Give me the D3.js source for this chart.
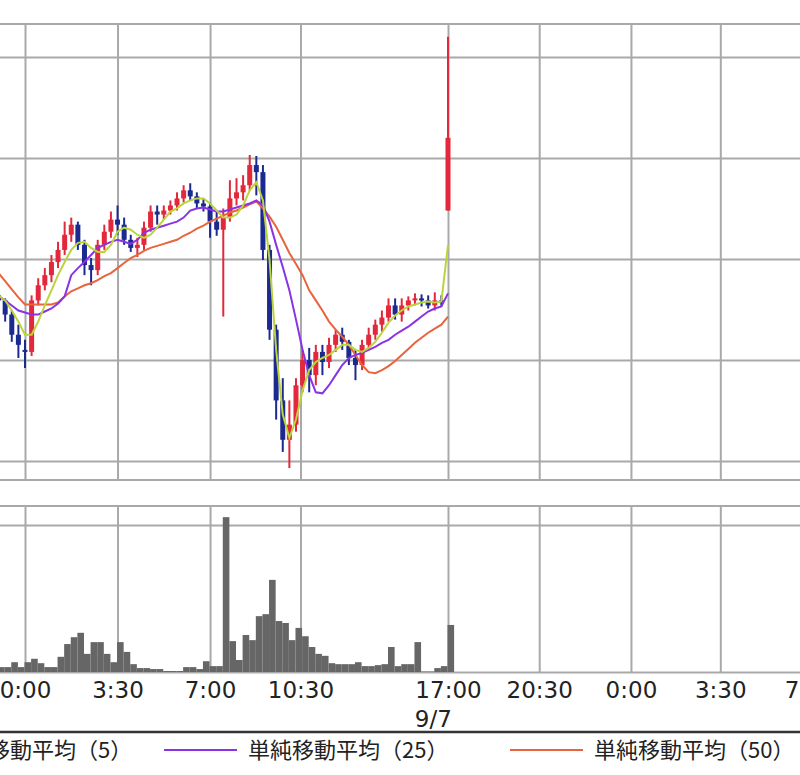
<!DOCTYPE html>
<html>
<head>
<meta charset="utf-8">
<script src="https://cdn.jsdelivr.net/npm/d3@7"></script>
<style>
  body { margin: 0; background: #fff; }
  svg { display: block; }
</style>
</head>
<body>
<div id="chart"></div>
<script>
// Chart size
const width = 800;
const height = 775;

// 15-minute bars, time in session hours (the break before 17:00 is squeezed out)
const barStart = -1;
const barStep = 0.25;

const opens = [
  22564, 22559, 22545, 22525, 22510, 22508, 22559, 22574, 22584, 22597,
  22609, 22624, 22634, 22614, 22594, 22589, 22614, 22627, 22639, 22634,
  22619, 22611, 22614, 22631, 22647, 22644, 22648, 22653, 22660, 22668,
  22662, 22655, 22652, 22637, 22629, 22641, 22660, 22666, 22673, 22693,
  22686, 22609, 22530, 22460, 22421, 22436, 22475, 22500, 22485, 22508,
  22498, 22515, 22525, 22518, 22502, 22495, 22515, 22525, 22535, 22542,
  22554, 22545, 22554, 22559, 22561, 22559, 22554, 22559, 22648
];
const highs = [
  22571, 22561, 22549, 22535, 22520, 22564, 22581, 22591, 22604, 22617,
  22637, 22641, 22637, 22619, 22601, 22619, 22634, 22647, 22653, 22641,
  22624, 22621, 22637, 22653, 22653, 22653, 22658, 22666, 22673, 22675,
  22666, 22660, 22656, 22647, 22650, 22678, 22680, 22683, 22703, 22702,
  22693, 22614, 22535, 22482, 22460, 22482, 22510, 22512, 22515, 22515,
  22522, 22530, 22532, 22520, 22510, 22520, 22532, 22540, 22549, 22561,
  22561, 22561, 22563, 22566, 22565, 22564, 22567, 22564, 22820
];
const lows = [
  22551, 22538, 22518, 22502, 22492, 22504, 22554, 22569, 22577, 22591,
  22604, 22617, 22609, 22584, 22574, 22584, 22609, 22621, 22624, 22614,
  22607, 22602, 22609, 22627, 22634, 22639, 22644, 22648, 22656, 22658,
  22650, 22647, 22621, 22623, 22543, 22637, 22653, 22658, 22668, 22663,
  22599, 22520, 22441, 22409, 22393, 22429, 22468, 22468, 22475, 22485,
  22492, 22508, 22510, 22495, 22480, 22490, 22510, 22520, 22528, 22538,
  22540, 22538, 22549, 22554, 22553, 22551, 22549, 22553, 22648
];
const closes = [
  22559, 22545, 22525, 22515, 22508, 22559, 22574, 22584, 22597, 22609,
  22624, 22634, 22614, 22594, 22589, 22614, 22627, 22639, 22634, 22619,
  22611, 22614, 22631, 22647, 22644, 22648, 22653, 22660, 22668, 22662,
  22655, 22652, 22637, 22629, 22641, 22660, 22666, 22673, 22693, 22686,
  22609, 22530, 22460, 22421, 22436, 22475, 22500, 22485, 22508, 22498,
  22515, 22525, 22518, 22502, 22495, 22515, 22525, 22535, 22542, 22554,
  22545, 22554, 22559, 22561, 22559, 22554, 22559, 22557, 22720
];
const volumes = [
  100, 100, 200, 100, 200, 270, 180, 100, 100, 310,
  570, 710, 800, 370, 610, 610, 370, 200, 610, 410,
  160, 80, 80, 60, 60, 20, 20, 20, 100, 100,
  60, 220, 120, 120, 3160, 630, 245, 755, 650, 1140,
  1180, 1880, 1040, 1000, 650, 900, 730, 510, 370, 330,
  180, 160, 160, 160, 200, 120, 120, 140, 160, 510,
  120, 160, 160, 610, 10, 10, 80, 120, 960
];

// Moving averages as drawn on the chart
const ma5 = [
  22564, 22559, 22549, 22538, 22525, 22525, 22538, 22554, 22569, 22584,
  22597, 22609, 22616, 22617, 22611, 22607, 22607, 22614, 22627, 22631,
  22629, 22624, 22621, 22624, 22631, 22639, 22647, 22650, 22655, 22658,
  22660, 22660, 22655, 22648, 22641, 22641, 22644, 22653, 22668, 22676,
  22658, 22599, 22510, 22446, 22423, 22441, 22470, 22490, 22498, 22502,
  22505, 22510, 22515, 22515, 22510, 22508, 22512, 22518, 22527, 22537,
  22544, 22549, 22553, 22555, 22557, 22558, 22557, 22558, 22614
];
const ma25 = [
  22563, 22559, 22554, 22549, 22547, 22545, 22545, 22548, 22551, 22556,
  22563, 22584, 22591, 22597, 22604, 22611, 22614, 22617, 22619, 22617,
  22615, 22619, 22626, 22629, 22631, 22633, 22635, 22637, 22641, 22648,
  22650, 22651, 22649, 22647, 22647, 22649, 22651, 22653, 22655, 22658,
  22653, 22637, 22614, 22592, 22569, 22540, 22510, 22485, 22468, 22467,
  22475, 22485, 22495, 22502, 22505, 22507, 22510, 22513, 22517, 22520,
  22525, 22529, 22533, 22538, 22543, 22548, 22551, 22553, 22566
];
const ma50 = [
  22586, 22578, 22570, 22562, 22555, 22555, 22555, 22555, 22555, 22557,
  22563, 22568, 22571, 22574, 22576, 22579, 22583, 22586, 22591, 22596,
  22601, 22604, 22608, 22611, 22613, 22615, 22617, 22619, 22623, 22626,
  22630, 22633, 22637, 22640, 22643, 22646, 22648, 22651, 22654, 22657,
  22650, 22642, 22632, 22619, 22606, 22595, 22584, 22569, 22559, 22549,
  22538, 22530, 22523, 22515, 22505, 22495, 22488, 22487, 22490, 22494,
  22499, 22505, 22511, 22517, 22522, 22527, 22531, 22535, 22543
];

// Axis ticks
const tickHours = [0, 3.5, 7, 10.42, 16, 19.45, 22.92, 26.3, 29.7];
const tickLabels = ['0:00', '3:30', '7:00', '10:30', '17:00', '20:30', '0:00', '3:30', '7:00'];
const dateHour = 16;
const dateLabel = '9/7';
const priceTicks = [22400, 22500, 22600, 22700, 22800];
const volumeTicks = [0, 3000];

// Legend
const legendNames = ['単純移動平均（5）', '単純移動平均（25）', '単純移動平均（50）'];

// Colours
const gridColor = '#a9a9a9';
const upColor = '#e2283a';
const downColor = '#1b2a8e';
const volColor = '#666666';
const maColors = ['#bcd43c', '#8a33e6', '#e8643c'];

// Panel layout (pixels)
const priceTop = 24, priceBottom = 480;
const volTop = 506, volBottom = 672;

const bars = opens.map((o, i) => ({
  t: barStart + i * barStep,
  o: o, h: highs[i], l: lows[i], c: closes[i], v: volumes[i]
}));

// Scales
const x = d3.scaleLinear().domain([0, 16]).range([25, 448]);
const yPrice = d3.scaleLinear().domain([22400, 22800]).range([461, 57]);
const yVol = d3.scaleLinear().domain([0, 3000]).range([volBottom, 525]);

const svg = d3.select('#chart')
  .append('svg')
  .attr('width', width)
  .attr('height', height);

function styleGrid(g) {
  g.select('.domain').remove();
  g.selectAll('line').attr('stroke', gridColor).attr('stroke-width', 2);
}

// Panel frames
svg.selectAll('.frame')
  .data([priceTop, priceBottom, volTop])
  .enter()
  .append('line')
  .attr('class', 'frame')
  .attr('x1', 0).attr('x2', width)
  .attr('y1', d => d).attr('y2', d => d)
  .attr('stroke', gridColor)
  .attr('stroke-width', 2);

// Price grid
svg.append('g')
  .call(d3.axisRight(yPrice).tickValues(priceTicks).tickSize(width).tickFormat(''))
  .call(styleGrid);

svg.append('g')
  .attr('transform', `translate(0, ${priceTop})`)
  .call(d3.axisBottom(x).tickValues(tickHours).tickSize(priceBottom - priceTop).tickFormat(''))
  .call(styleGrid);

// Volume grid
svg.append('g')
  .call(d3.axisRight(yVol).tickValues(volumeTicks).tickSize(width).tickFormat(''))
  .call(styleGrid);

svg.append('g')
  .attr('transform', `translate(0, ${volTop})`)
  .call(d3.axisBottom(x).tickValues(tickHours).tickSize(volBottom - volTop).tickFormat(''))
  .call(styleGrid);

// Volume bars
const barW = x(barStep) - x(0);
svg.selectAll('.vol')
  .data(bars)
  .enter()
  .append('rect')
  .attr('class', 'vol')
  .attr('x', d => x(d.t) - 0.5)
  .attr('y', d => yVol(d.v))
  .attr('width', barW)
  .attr('height', d => yVol(0) - yVol(d.v))
  .attr('fill', volColor);

// Candles
const candle = svg.selectAll('.candle')
  .data(bars)
  .enter()
  .append('g')
  .attr('class', 'candle');

candle.append('line')
  .attr('x1', d => x(d.t)).attr('x2', d => x(d.t))
  .attr('y1', d => yPrice(d.h)).attr('y2', d => yPrice(d.l))
  .attr('stroke', d => d.c >= d.o ? upColor : downColor)
  .attr('stroke-width', 2);

candle.append('rect')
  .attr('x', d => x(d.t) - 2.5)
  .attr('y', d => yPrice(Math.max(d.o, d.c)))
  .attr('width', 5)
  .attr('height', d => Math.max(2, Math.abs(yPrice(d.o) - yPrice(d.c))))
  .attr('fill', d => d.c >= d.o ? upColor : downColor);

// Moving average lines
const line = d3.line()
  .x((d, i) => x(barStart + i * barStep))
  .y(d => yPrice(d));

[ma50, ma25, ma5].forEach((s, k) => {
  svg.append('path')
    .datum(s)
    .attr('d', line)
    .attr('fill', 'none')
    .attr('stroke', maColors[2 - k])
    .attr('stroke-width', 2);
});

// Time axis labels
const xAxis = svg.append('g')
  .attr('transform', `translate(0, ${volBottom})`)
  .call(d3.axisBottom(x).tickValues(tickHours).tickSize(0).tickPadding(10)
    .tickFormat((d, i) => tickLabels[i]));
xAxis.select('.domain').remove();
xAxis.attr('font-family', '"DejaVu Sans", sans-serif').attr('font-size', 23);
xAxis.selectAll('text').attr('fill', '#222');

// Date label sits under the 17:00 label, left aligned with it
const dateTickText = xAxis.selectAll('text').filter(d => d === dateHour).node();
const dateX = x(dateHour) + (dateTickText ? dateTickText.getBBox().x : -33);
svg.append('text')
  .attr('x', dateX)
  .attr('y', 727)
  .attr('font-family', '"DejaVu Sans", sans-serif')
  .attr('font-size', 23)
  .attr('fill', '#222')
  .text(dateLabel);

// Legend
svg.append('line')
  .attr('x1', 0).attr('x2', width)
  .attr('y1', 732).attr('y2', 732)
  .attr('stroke', '#333')
  .attr('stroke-width', 2.5);

const legendX = [-140, 164, 510];
legendNames.forEach((name, i) => {
  svg.append('line')
    .attr('x1', legendX[i]).attr('x2', legendX[i] + 73)
    .attr('y1', 750).attr('y2', 750)
    .attr('stroke', maColors[i])
    .attr('stroke-width', 2);
  svg.append('text')
    .attr('x', legendX[i] + 84)
    .attr('y', 758)
    .attr('font-family', '"Noto Sans CJK JP", sans-serif')
    .attr('font-size', 22)
    .attr('fill', '#222')
    .text(name);
});
</script>
</body>
</html>
